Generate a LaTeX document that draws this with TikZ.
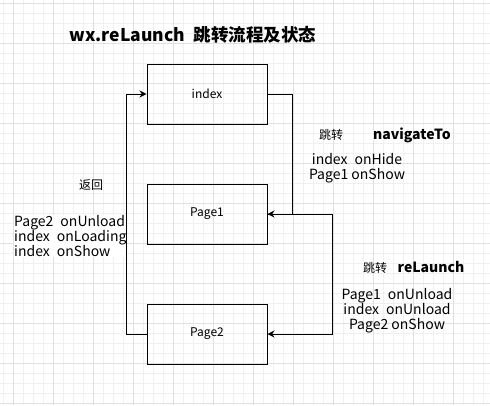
\documentclass[tikz,border=0pt]{standalone}
\usepackage{fontspec}
\setmainfont{Noto Sans CJK SC}
\usetikzlibrary{arrows.meta,positioning}

\begin{document}
\begin{tikzpicture}[x=1pt,y=-1pt,
    page/.style={draw,line width=1pt,minimum width=120pt,minimum height=60pt,
      font=\fontsize{12}{14}\selectfont},
    link/.style={line width=1pt,-{Stealth[length=7pt,width=7pt]}},
    note/.style={font=\fontsize{14}{15}\selectfont,align=center,inner sep=0pt},
    small/.style={font=\fontsize{12}{14}\selectfont,inner sep=0pt},
    key/.style={font=\bfseries\fontsize{14}{16}\selectfont,inner sep=0pt}]

    \useasboundingbox (0,0) rectangle (490,405);
    \fill[white] (0,0) rectangle (490,405);
    % grid
    \foreach \x in {3,13,...,490} \draw[black!6,line width=0.6pt] (\x,0) -- (\x,405);
    \foreach \y in {3,13,...,405} \draw[black!6,line width=0.6pt] (0,\y) -- (490,\y);
    \foreach \x in {13,53,...,490} \draw[black!12,line width=0.8pt] (\x,0) -- (\x,405);
    \foreach \y in {3,43,...,405} \draw[black!12,line width=0.8pt] (0,\y) -- (490,\y);

    \node[font=\bfseries\fontsize{17.5}{20}\selectfont,inner sep=0pt] (title) at (193,35)
      {wx.reLaunch\enspace 跳转流程及状态};

    \node[page] (index) at (207,94) {index};
    \node[page] (page1) at (207,214) {Page1};
    \node[page] (page2) at (207,334) {Page2};

    \draw[link] (index.east) -- ++(25,0) |- (page1.east);
    \draw[link] (page1.east) -- ++(65,0) |- (page2.east);
    \draw[link] (page2.west) -- ++(-20,0) |- (index.west);

    \node[small] (jump1) at (331,135) {跳转};
    \node[key] (nav) at (412,135) {navigateTo};
    \node[note] (navtxt) at (357,168) {index\enspace onHide\\Page1 onShow};

    \node[small] (back) at (91,185) {返回};
    \node[note,align=left,fill=white,anchor=west] (backtxt) at (14,236)
      {Page2\enspace onUnload\\index\enspace onLoading\\index\enspace onShow};

    \node[small] (jump2) at (375,268) {跳转};
    \node[key] (rel) at (431,267) {reLaunch};
    \node[note] (reltxt) at (397,311)
      {Page1\enspace onUnload\\index\enspace onUnload\\Page2 onShow};
\end{tikzpicture}
\end{document}
